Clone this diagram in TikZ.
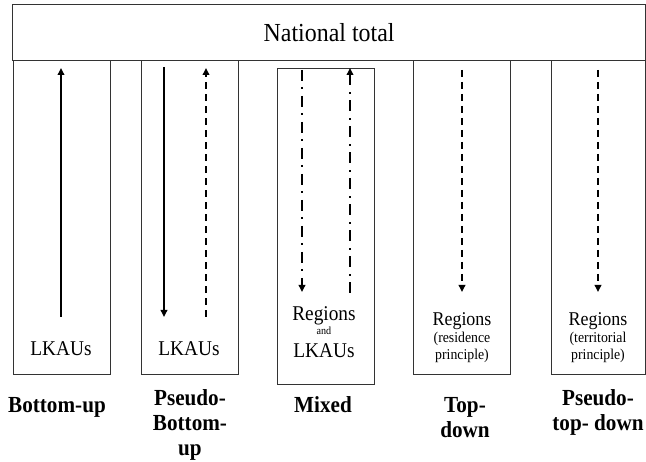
\documentclass[tikz,border=0pt]{standalone}
\usepackage{fontspec}
\setmainfont{Liberation Serif}[FakeStretch=0.92]
\usetikzlibrary{arrows.meta}
\begin{document}
\begin{tikzpicture}[x=1pt,y=-1pt,
  frame/.style={draw=black!80, line width=1.2pt, inner sep=0pt, anchor=north west},
  arr/.style={line width=1.9pt, -{Triangle[length=7pt,width=6.5pt]}},
  dsh/.style={dash pattern=on 7pt off 5pt},
  dashdot/.style={dash pattern=on 11pt off 6pt on 2pt off 7pt},
  txt/.style={anchor=base, inner sep=0pt, font=\fontsize{21}{24}\selectfont},
  mid/.style={anchor=base, inner sep=0pt, font=\fontsize{19.5}{22}\selectfont},
  small/.style={anchor=base, inner sep=0pt, font=\fontsize{15}{17}\selectfont},
  tiny/.style={anchor=base, inner sep=0pt, font=\fontsize{11}{12}\selectfont},
  lab/.style={anchor=base, inner sep=0pt, font=\fontsize{23}{25}\selectfont\bfseries},
]
\useasboundingbox (0,0) rectangle (646,462);
\fill[white] (0,0) rectangle (646,462);

% national total
\node[frame, minimum width=633pt, minimum height=56pt, font=\fontsize{26}{28}\selectfont] (nat) at (12,4) {National total};

% column boxes
\node[frame, minimum width=97pt, minimum height=314pt] (c1) at (13,60) {};
\node[frame, minimum width=97pt, minimum height=314pt] (c2) at (141,60) {};
\node[frame, minimum width=97pt, minimum height=316pt] (c3) at (277,68) {};
\node[frame, minimum width=97pt, minimum height=314pt] (c4) at (413,60) {};
\node[frame, minimum width=94pt, minimum height=314pt] (c5) at (551,60) {};

% texts inside
\node[txt] (t1) at (61,356) {LKAUs};
\node[txt] (t2) at (189,356) {LKAUs};
\node[txt] (t3a) at (324,321) {Regions};
\node[tiny] (t3b) at (324,335) {and};
\node[txt] (t3c) at (324,358) {LKAUs};
\node[mid] (t4a) at (462,326) {Regions};
\node[small] (t4b) at (462,343) {(residence};
\node[small] (t4c) at (462,360) {principle)};
\node[mid] (t5a) at (598,326) {Regions};
\node[small] (t5b) at (598,343) {(territorial};
\node[small] (t5c) at (598,360) {principle)};

% arrow end points
\coordinate (a1s) at (61,317);  \coordinate (a1e) at (61,68);
\coordinate (a2s) at (164,67);  \coordinate (a2e) at (164,317);
\coordinate (a3s) at (206,317); \coordinate (a3e) at (206,68);
\coordinate (a4s) at (302,70);  \coordinate (a4e) at (302,292);
\coordinate (a5s) at (350,293); \coordinate (a5e) at (350,68);
\coordinate (a6s) at (462,70);  \coordinate (a6e) at (462,292);
\coordinate (a7s) at (598,70);  \coordinate (a7e) at (598,292);

\draw[arr] (a1s) -- (a1e);
\draw[arr] (a2s) -- (a2e);
\draw[arr, dsh] (a3s) -- (a3e);
\draw[arr, dashdot] (a4s) -- (a4e);
\draw[arr, dashdot] (a5s) -- (a5e);
\draw[arr, dsh] (a6s) -- (a6e);
\draw[arr, dsh] (a7s) -- (a7e);

% labels below
\node[lab] (l1) at (57,413) {Bottom-up};
\node[lab] (l2a) at (190,406) {Pseudo-};
\node[lab] (l2b) at (190,431) {Bottom-};
\node[lab] (l2c) at (190,456) {up};
\node[lab] (l3) at (323,413) {Mixed};
\node[lab] (l4a) at (465,413) {Top-};
\node[lab] (l4b) at (465,438) {down};
\node[lab] (l5a) at (598,406) {Pseudo-};
\node[lab] (l5b) at (598,431) {top- down};
\end{tikzpicture}
\end{document}
